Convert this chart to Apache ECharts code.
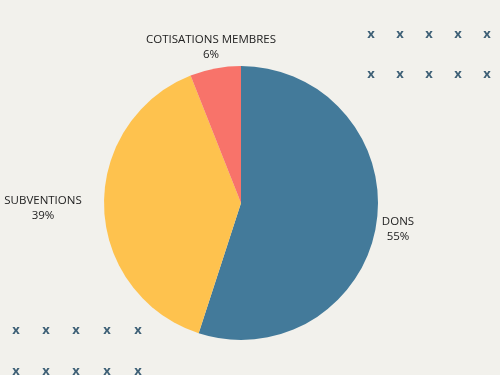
<!DOCTYPE html>
<html>
<head>
<meta charset="utf-8">
<script src="https://cdn.jsdelivr.net/npm/echarts@6/dist/echarts.min.js"></script>
<style>
  html, body { margin: 0; padding: 0; background: #f2f1ec; }
  #chart { width: 500px; height: 375px; }
</style>
</head>
<body>
<div id="chart"></div>
<script>
// données
const categories = ['DONS', 'SUBVENTIONS', 'COTISATIONS MEMBRES'];
const values = [55, 39, 6];
const colors = ['#437a9a', '#fec24e', '#f8736a'];

// emplacement des étiquettes (centre du bloc de texte)
const labelSpots = [[398, 229], [43, 208], [211, 47]];

// petites croix décoratives
const crossRows = [
  { xs: [371, 400, 429, 458, 487], ys: [34, 74] },
  { xs: [16, 46, 76, 107, 138], ys: [330, 371] }
];
const crosses = [];
crossRows.forEach(function (g) {
  g.ys.forEach(function (y) {
    g.xs.forEach(function (x) {
      crosses.push({
        type: 'text',
        x: x, y: y,
        style: {
          text: 'x', fill: '#3d5f75',
          font: 'bold 13px "Open Sans"',
          align: 'center', verticalAlign: 'middle'
        }
      });
    });
  });
});

const myChart = echarts.init(document.getElementById('chart'));
const option = {
  backgroundColor: '#f2f1ec',
  animation: false,
  graphic: crosses,
  series: [
    {
      type: 'pie',
      center: [241, 203],
      radius: [0, 137],
      startAngle: 90,
      clockwise: true,
      color: colors,
      label: {
        show: true,
        position: 'outside',
        formatter: '{b}\n{d}%',
        color: '#222',
        fontFamily: 'Open Sans',
        fontSize: 11.5,
        lineHeight: 15,
        align: 'center',
        overflow: 'none'
      },
      labelLine: { show: false },
      labelLayout: function (p) {
        const s = labelSpots[p.dataIndex];
        return { x: s[0], y: s[1], align: 'center', verticalAlign: 'middle' };
      },
      data: categories.map(function (c, i) {
        return { name: c, value: values[i] };
      })
    }
  ]
};
myChart.setOption(option);
</script>
</body>
</html>
